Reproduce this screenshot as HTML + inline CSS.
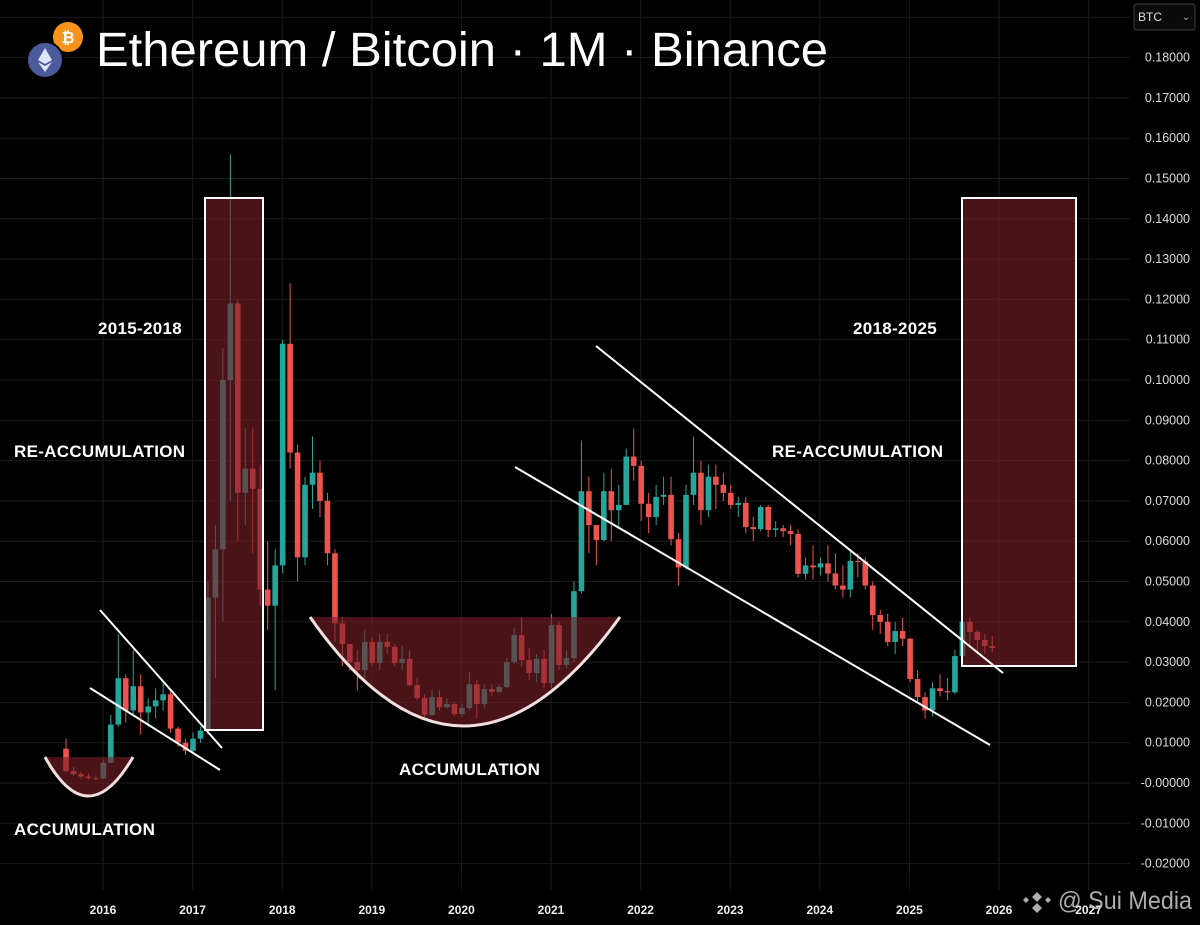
<!DOCTYPE html>
<html><head><meta charset="utf-8"><style>
html,body{margin:0;padding:0;background:#000;}
#wrap{position:relative;width:1200px;height:925px;overflow:hidden;background:#000;font-family:"Liberation Sans",sans-serif;}
svg{position:absolute;left:0;top:0;}
</style></head><body>
<div id="wrap">
<svg id="chart" width="1200" height="925"></svg>
</div>
<script>
const years = ["2016","2017","2018","2019","2020","2021","2022","2023","2024","2025","2026","2027"];
const priceTicks = [0.18,0.17,0.16,0.15,0.14,0.13,0.12,0.11,0.10,0.09,0.08,0.07,0.06,0.05,0.04,0.03,0.02,0.01,0.00,-0.01,-0.02];
const priceTickLabels = ["0.18000","0.17000","0.16000","0.15000","0.14000","0.13000","0.12000","0.11000","0.10000","0.09000","0.08000","0.07000","0.06000","0.05000","0.04000","0.03000","0.02000","0.01000","-0.00000","-0.01000","-0.02000"];
const firstOpen = 0.0085;
const closes = [
.0030,.0022,.0016,.0012,.0011,
.0050,.0145,.0260,.0180,.0240,.0175,.0190,.0205,.0220,.0135,.0100,.0080,
.0110,.0130,.0460,.0580,.1000,.1190,.0720,.0780,.0730,.0480,.0440,.0540,
.1090,.0820,.0560,.0740,.0770,.0700,.0570,.0396,.0345,.0300,.0280,.0350,
.0298,.0350,.0338,.0298,.0308,.0243,.0211,.0169,.0213,.0188,.0196,.0171,
.0186,.0245,.0196,.0233,.0226,.0238,.0300,.0367,.0305,.0273,.0308,.0248,
.0392,.0293,.0310,.0476,.0724,.0640,.0603,.0724,.0677,.0690,.0810,.0787,
.0693,.0660,.0710,.0715,.0605,.0535,.0715,.0770,.0677,.0760,.0740,.0720,
.0690,.0695,.0635,.0630,.0685,.0628,.0632,.0625,.0618,.0519,.0540,.0535,
.0545,.0520,.0490,.0480,.0551,.0550,.0490,.0417,.0400,.0350,.0377,.0358,
.0258,.0213,.0180,.0235,.0228,.0225,.0315,.0400,.0375,.0355,.0340,.0335];
const highs = [
.0110,.0040,.0028,.0024,.0018,
.0058,.0170,.0370,.0270,.0330,.0270,.0210,.0235,.0250,.0230,.0140,.0110,
.0125,.0140,.0500,.0640,.1080,.1560,.1200,.0880,.0880,.0790,.0600,.0580,
.1100,.1240,.0840,.0760,.0860,.0800,.0720,.0580,.0410,.0330,.0330,.0380,
.0360,.0370,.0370,.0345,.0340,.0330,.0260,.0220,.0230,.0230,.0210,.0200,
.0195,.0275,.0255,.0245,.0245,.0245,.0310,.0385,.0410,.0335,.0320,.0330,
.0420,.0400,.0330,.0500,.0850,.0760,.0640,.0770,.0780,.0740,.0830,.0880,
.0800,.0720,.0740,.0760,.0760,.0620,.0740,.0860,.0800,.0790,.0790,.0770,
.0740,.0710,.0710,.0660,.0690,.0690,.0650,.0640,.0640,.0630,.0560,.0590,
.0560,.0590,.0570,.0540,.0580,.0570,.0560,.0500,.0430,.0420,.0400,.0410,
.0360,.0280,.0225,.0250,.0270,.0260,.0330,.0420,.0410,.0380,.0370,.0365];
const lows = [
.0025,.0018,.0010,.0008,.0006,
.0010,.0050,.0140,.0150,.0170,.0120,.0140,.0160,.0180,.0125,.0090,.0070,
.0075,.0100,.0120,.0260,.0400,.0700,.0600,.0640,.0570,.0440,.0380,.0230,
.0520,.0780,.0500,.0540,.0680,.0660,.0540,.0350,.0290,.0280,.0230,.0260,
.0290,.0280,.0320,.0290,.0280,.0240,.0205,.0160,.0165,.0180,.0185,.0165,
.0165,.0180,.0160,.0185,.0215,.0225,.0235,.0295,.0290,.0255,.0250,.0235,
.0235,.0280,.0285,.0300,.0470,.0570,.0540,.0600,.0600,.0630,.0690,.0750,
.0650,.0620,.0640,.0690,.0590,.0490,.0530,.0690,.0640,.0660,.0680,.0700,
.0680,.0660,.0620,.0600,.0625,.0610,.0610,.0610,.0590,.0510,.0505,.0505,
.0515,.0500,.0480,.0460,.0460,.0510,.0480,.0380,.0370,.0340,.0320,.0340,
.0250,.0200,.0160,.0165,.0215,.0205,.0220,.0300,.0340,.0320,.0320,.0325];

const NS="http://www.w3.org/2000/svg";
const svg=document.getElementById('chart');
function yS(v){return 783-4030*v;}
function xS(i){return 66+i*7.47;}
function xYear(k){return 103+k*89.6;}
function mk(tag,attrs,parent){const e=document.createElementNS(NS,tag);for(const k in attrs)e.setAttribute(k,attrs[k]);(parent||svg).appendChild(e);return e;}

const grid=mk('g',{});


priceTicks.forEach(v=>{mk('line',{x1:0,x2:1130,y1:yS(v),y2:yS(v),stroke:'#1b1b1b','stroke-width':1},grid);});
mk('line',{x1:0,x2:1130,y1:yS(0.19),y2:yS(0.19),stroke:'#1b1b1b','stroke-width':1},grid);
years.forEach((y,k)=>{mk('line',{x1:xYear(k),x2:xYear(k),y1:0,y2:890,stroke:'#1b1b1b','stroke-width':1},grid);});

const cg=mk('g',{});


let prev=firstOpen;
closes.forEach((c,i)=>{
  const o=prev; prev=c;
  const up=c>=o; const col=up?'#26a69a':'#ef5350';
  const x=xS(i);
  const w=mk('line',{x1:x,x2:x,y1:yS(highs[i]),y2:yS(lows[i]),stroke:col,'stroke-width':1},cg);
  
  
  const top=yS(Math.max(o,c)),bot=yS(Math.min(o,c));
  const b=mk('rect',{x:x-2.8,y:top,width:5.6,height:Math.max(1,bot-top),fill:col},cg);
  
  
});
</script>
<svg width="1200" height="925" style="position:absolute;left:0;top:0">
  <rect x="205" y="198" width="58" height="532" fill="rgba(120,30,38,0.62)" stroke="#fff" stroke-width="2"/>
  <rect x="962" y="198" width="114" height="468" fill="rgba(120,30,38,0.62)" stroke="#fff" stroke-width="2"/>
  <path d="M45,757 Q88,835 133,757 Z" fill="rgba(120,30,38,0.62)"/>
  <path d="M45,757 Q88,835 133,757" fill="none" stroke="#f2dede" stroke-width="3"/>
  <path d="M310,617 Q462,835 620,617 Z" fill="rgba(120,30,38,0.62)"/>
  <path d="M310,617 Q462,835 620,617" fill="none" stroke="#f2dede" stroke-width="3"/>
  <line x1="100" y1="610" x2="222" y2="748" stroke="#fff" stroke-width="2"/>
  <line x1="90" y1="688" x2="220" y2="770" stroke="#fff" stroke-width="2"/>
  <line x1="515" y1="467" x2="990" y2="745" stroke="#fff" stroke-width="2"/>
  <line x1="596" y1="346" x2="1003" y2="673" stroke="#fff" stroke-width="2"/>
  <g font-family="Liberation Sans, sans-serif" font-weight="bold" font-size="17" fill="#fff" letter-spacing="0.3">
    <text x="98" y="334">2015-2018</text>
    <text x="14" y="457">RE-ACCUMULATION</text>
    <text x="14" y="835">ACCUMULATION</text>
    <text x="399" y="775">ACCUMULATION</text>
    <text x="853" y="334">2018-2025</text>
    <text x="772" y="457">RE-ACCUMULATION</text>
  </g>
  <g font-family="Liberation Sans, sans-serif" font-size="12.5" fill="#ddd" text-anchor="end" id="yax"></g>
  <g font-family="Liberation Sans, sans-serif" font-size="12" font-weight="bold" fill="#eee" text-anchor="middle" id="xax"></g>
  <circle cx="68" cy="37" r="15" fill="#f7931a"/>
  <text x="68" y="43" font-family="Liberation Sans, sans-serif" font-size="16" font-weight="bold" fill="#fff" text-anchor="middle">₿</text>
  <circle cx="45" cy="60" r="18" fill="#4a5a9a" stroke="#000" stroke-width="2"/>
  <path d="M45,48 L52,60 L45,64 L38,60 Z M45,66 L52,62 L45,72 L38,62 Z" fill="#dfe4f5"/>
  <text x="96" y="66" font-family="Liberation Sans, sans-serif" font-size="48" fill="#fff" textLength="732" lengthAdjust="spacingAndGlyphs">Ethereum / Bitcoin · 1M · Binance</text>
  <rect x="1134" y="4" width="61" height="26" rx="3" fill="#0a0a0a" stroke="#3a4440"/>
  <text x="1138" y="21" font-family="Liberation Sans, sans-serif" font-size="12" fill="#ddd">BTC</text>
  <text x="1186" y="20" font-family="Liberation Sans, sans-serif" font-size="10" fill="#aaa" text-anchor="middle">⌄</text>
  <g opacity="0.85">
    <path d="M1037,892 l5,5 l-5,5 l-5,-5 Z M1026,897 l3,3 l-3,3 l-3,-3 Z M1048,897 l3,3 l-3,3 l-3,-3 Z M1037,903 l5,5 l-5,5 l-5,-5 Z" fill="#ccc"/>
    <text x="1058" y="909" font-family="Liberation Sans, sans-serif" font-size="25" fill="#ccc" textLength="134" lengthAdjust="spacingAndGlyphs">@ Sui Media</text>
  </g>
</svg>
<script>
(function(){
const NS2="http://www.w3.org/2000/svg";
const yax=document.getElementById('yax');
priceTicks.forEach((v,i)=>{const t=document.createElementNS(NS2,'text');t.setAttribute('x',1190);t.setAttribute('y',783-4030*v+4);t.textContent=priceTickLabels[i];


yax.appendChild(t);});
const xax=document.getElementById('xax');
years.forEach((y,k)=>{const t=document.createElementNS(NS2,'text');t.setAttribute('x',103+k*89.6);t.setAttribute('y',914);t.textContent=y;


xax.appendChild(t);});
})();
</script>
</body></html>
